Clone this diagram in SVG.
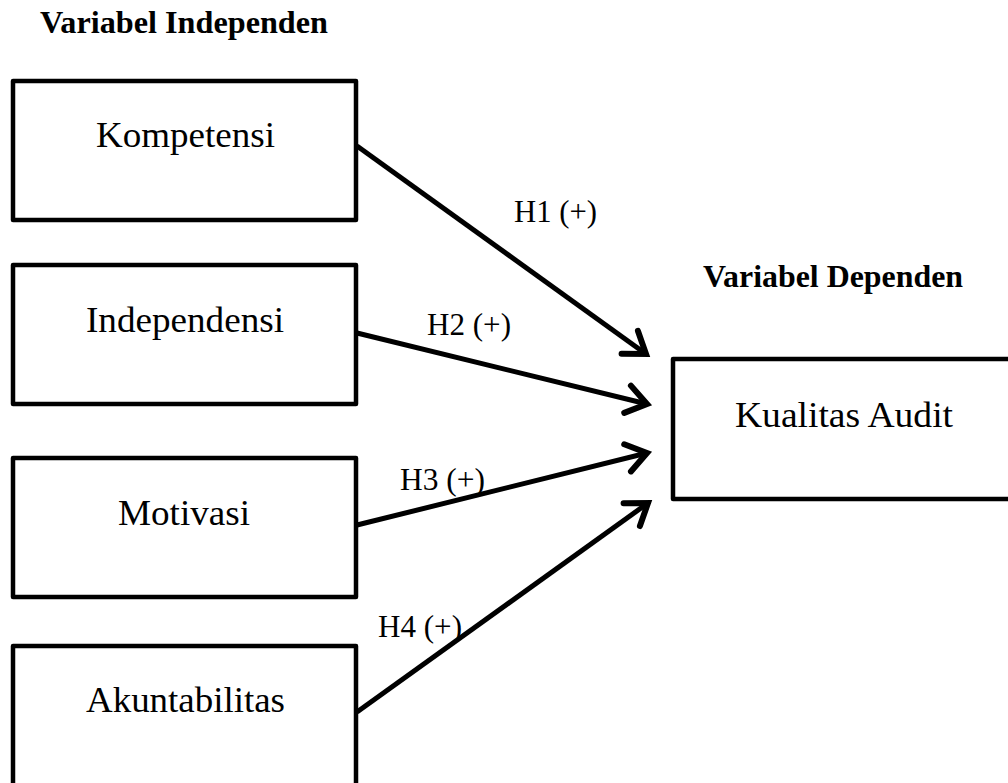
<svg xmlns="http://www.w3.org/2000/svg" width="1008" height="783" viewBox="0 0 1008 783">
<style>
.box{fill:#fff;stroke:#000;stroke-width:4.5;stroke-linejoin:round}
.nt{font-family:"Liberation Serif","Times New Roman",serif;font-size:35px;fill:#000}
.lb{font-family:"Liberation Serif","Times New Roman",serif;font-size:31px;fill:#000}
.hd{font-family:"Liberation Serif","Times New Roman",serif;font-size:31px;font-weight:bold;fill:#000}
.cn{stroke:#000;stroke-width:5;fill:none;marker-end:url(#ah)}
</style>
<defs>
<marker id="ah" markerUnits="userSpaceOnUse" markerWidth="40" markerHeight="40" viewBox="-30 -20 40 40" refX="0" refY="0" orient="auto">
<path d="M-20,-14 L0,0 L-20,14" fill="none" stroke="#000" stroke-width="6" stroke-linecap="round" stroke-linejoin="miter"/>
</marker>
</defs>
<rect width="1008" height="783" fill="#fff"/>
<text class="hd" x="40" y="33" textLength="288" lengthAdjust="spacingAndGlyphs">Variabel Independen</text>
<text class="hd" x="703" y="287" textLength="260" lengthAdjust="spacingAndGlyphs">Variabel Dependen</text>
<g id="kompetensi"><rect class="box" x="13" y="81" width="343" height="139"/><text class="nt" x="96" y="147" textLength="179" lengthAdjust="spacingAndGlyphs">Kompetensi</text></g>
<g id="independensi"><rect class="box" x="13" y="265" width="343" height="139"/><text class="nt" x="86" y="332" textLength="198" lengthAdjust="spacingAndGlyphs">Independensi</text></g>
<g id="motivasi"><rect class="box" x="13" y="458" width="343" height="139"/><text class="nt" x="118" y="525" textLength="132" lengthAdjust="spacingAndGlyphs">Motivasi</text></g>
<g id="akuntabilitas"><rect class="box" x="13" y="646" width="343" height="160"/><text class="nt" x="86" y="712" textLength="199" lengthAdjust="spacingAndGlyphs">Akuntabilitas</text></g>
<g id="kualitas"><rect class="box" x="673" y="359" width="360" height="140"/><text class="nt" x="735" y="427" textLength="218" lengthAdjust="spacingAndGlyphs">Kualitas Audit</text></g>
<g id="connectors">
<line class="cn" x1="357" y1="146" x2="646" y2="354"/>
<line class="cn" x1="357" y1="333" x2="647" y2="404"/>
<line class="cn" x1="357" y1="525" x2="647" y2="453"/>
<line class="cn" x1="357" y1="712" x2="648" y2="503"/>
</g>
<g id="labels">
<text class="lb" x="514" y="222" textLength="83" lengthAdjust="spacingAndGlyphs">H1 (+)</text>
<text class="lb" x="427" y="335" textLength="84" lengthAdjust="spacingAndGlyphs">H2 (+)</text>
<text class="lb" x="400" y="490" textLength="85" lengthAdjust="spacingAndGlyphs">H3 (+)</text>
<text class="lb" x="378" y="637" textLength="84" lengthAdjust="spacingAndGlyphs">H4 (+)</text>
</g>
</svg>
